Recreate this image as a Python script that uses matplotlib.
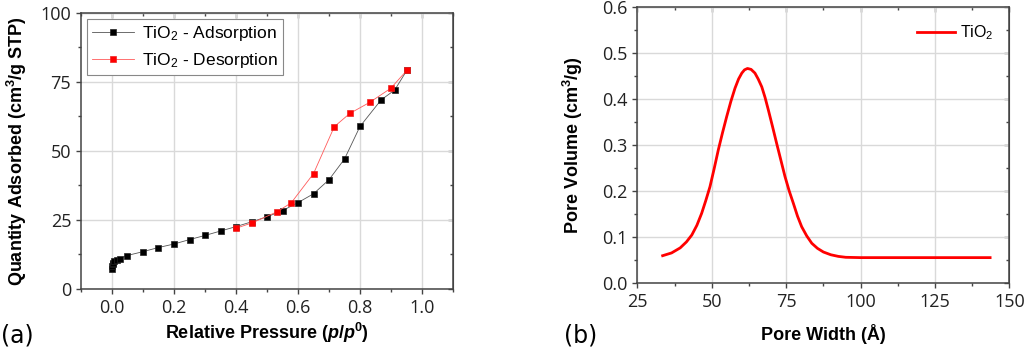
import matplotlib
matplotlib.use('Agg')
import matplotlib.pyplot as plt
from matplotlib.ticker import MultipleLocator

# ── data ──
ads_p = [0.0005, 0.001, 0.002, 0.004, 0.008, 0.015, 0.025, 0.048, 0.099, 0.149,
         0.20, 0.25, 0.30, 0.35, 0.40, 0.452, 0.501, 0.55, 0.60, 0.65,
         0.70, 0.75, 0.80, 0.868, 0.912, 0.951]
ads_q = [7.4, 8.2, 8.9, 9.5, 10.1, 10.6, 11.0, 12.1, 13.5, 15.0,
         16.3, 17.9, 19.4, 21.0, 22.6, 24.4, 26.2, 28.4, 31.3, 34.5,
         39.6, 47.1, 58.9, 68.5, 72.1, 79.2]

des_p = [0.951, 0.899, 0.831, 0.767, 0.717, 0.65, 0.578, 0.531, 0.453, 0.40]
des_q = [79.2, 72.7, 67.6, 63.6, 58.8, 41.8, 31.2, 27.9, 24.0, 22.0]

pore_w = [33.5, 36.5, 39.4, 41.5, 43.3, 45.0, 46.6, 48.0, 49.4, 50.8, 52.2, 53.6,
          55.0, 56.4, 57.8, 59.0, 60.1, 61.0, 62.0, 63.2, 64.5, 65.6, 66.8, 67.9,
          69.0, 70.4, 71.8, 73.2, 74.6, 76.0, 77.4, 78.8, 80.2, 81.9, 83.6, 85.5,
          87.5, 90.0, 92.5, 95.0, 100.0, 110.0, 120.0, 130.0, 143.5]
pore_v = [0.060, 0.066, 0.077, 0.090, 0.105, 0.126, 0.152, 0.180, 0.210, 0.249, 0.290, 0.327,
          0.362, 0.395, 0.424, 0.444, 0.457, 0.464, 0.467, 0.465, 0.457, 0.444, 0.427, 0.404,
          0.377, 0.341, 0.304, 0.268, 0.232, 0.201, 0.174, 0.146, 0.123, 0.103, 0.087, 0.076,
          0.068, 0.062, 0.0585, 0.0565, 0.0558, 0.0558, 0.0558, 0.0558, 0.0558]

plt.rcParams['font.family'] = ['Open Sans', 'DejaVu Sans']
plt.rcParams['xtick.labelsize'] = 13
plt.rcParams['ytick.labelsize'] = 13
plt.rcParams['mathtext.fontset'] = 'custom'
plt.rcParams['mathtext.rm'] = 'Liberation Sans'
plt.rcParams['mathtext.bf'] = 'Liberation Sans:bold'
plt.rcParams['mathtext.it'] = 'Liberation Sans:italic'
plt.rcParams['mathtext.bfit'] = 'Liberation Sans:bold:italic'

SPINE = '#444444'
GRID = '#d9d9d9'

fig = plt.figure(figsize=(10.24, 3.5), dpi=100)
ax1 = fig.add_axes([0.0791, 0.1743, 0.3633, 0.7886])
ax2 = fig.add_axes([0.6224, 0.1906, 0.3634, 0.7886])


def style(ax, xmaj, xmin, ymaj, ymin):
    ax.xaxis.set_major_locator(MultipleLocator(xmaj))
    ax.xaxis.set_minor_locator(MultipleLocator(xmin))
    ax.yaxis.set_major_locator(MultipleLocator(ymaj))
    ax.yaxis.set_minor_locator(MultipleLocator(ymin))
    ax.grid(True, which='major', color=GRID, lw=1.0, zorder=0)
    ax.set_axisbelow(True)
    for s in ax.spines.values():
        s.set_color(SPINE)
        s.set_linewidth(1.1)
    ax.tick_params(which='major', direction='out', length=3.6, width=1, color=SPINE,
                   labelsize=13, labelcolor='#222222', pad=3.5)
    ax.tick_params(which='minor', direction='out', length=2, width=1, color=SPINE)
    # top / right ticks point inward
    top = ax.secondary_xaxis('top')
    top.xaxis.set_major_locator(MultipleLocator(xmaj))
    top.xaxis.set_minor_locator(MultipleLocator(xmin))
    top.tick_params(which='major', direction='in', length=3.6, width=1, color=SPINE, labeltop=False)
    top.tick_params(which='minor', direction='in', length=2, width=1, color=SPINE)
    top.spines['top'].set_color(SPINE)
    right = ax.secondary_yaxis('right')
    right.yaxis.set_major_locator(MultipleLocator(ymaj))
    right.yaxis.set_minor_locator(MultipleLocator(ymin))
    right.tick_params(which='major', direction='in', length=3.6, width=1, color=SPINE, labelright=False)
    right.tick_params(which='minor', direction='in', length=2, width=1, color=SPINE)
    right.spines['right'].set_color(SPINE)


# ── (a) isotherm ──
ax1.plot(ads_p, ads_q, color='#555555', lw=0.6, marker='s', ms=4.6,
         mfc='black', mec='#222222', mew=0.5, label=r'TiO$_2$ - Adsorption', zorder=3)
ax1.plot(des_p, des_q, color='#ff5a5a', lw=0.6, marker='s', ms=4.6,
         mfc='#ff0000', mec='#ee2222', mew=0.5, label=r'TiO$_2$ - Desorption', zorder=4)
ax1.set_xlim(-0.1, 1.1)
ax1.set_ylim(0, 100)
style(ax1, 0.2, 0.1, 25, 12.5)
ax1.xaxis.set_major_formatter(lambda v, p: f"{v:.1f}")
ax1.set_xlabel(r'Relative Pressure ($\mathbfit{p}$/$\mathbfit{p}^\mathbf{0}$)',
               family='Liberation Sans', fontweight='bold', fontsize=13, labelpad=3)
ax1.set_ylabel(r'Quantity Adsorbed (cm$^\mathbf{3}$/g STP)',
               family='Liberation Sans', fontweight='bold', fontsize=13, labelpad=8.5)
leg = ax1.legend(loc='upper left', bbox_to_anchor=(0.0, 1.0), borderaxespad=0.35,
                 prop={'family': 'Liberation Sans', 'size': 12.5},
                 fancybox=False, edgecolor='#888888', framealpha=1,
                 handlelength=2.4, handletextpad=0.45, borderpad=0.3, labelspacing=0.45)
leg.get_frame().set_linewidth(0.8)

# ── (b) pore size distribution ──
ax2.plot(pore_w, pore_v, color='#ff0000', lw=2.0, label=r'TiO$_2$', zorder=3)
ax2.set_xlim(25, 150)
ax2.set_ylim(0, 0.6)
style(ax2, 25, 12.5, 0.1, 0.05)
ax2.yaxis.set_major_formatter(lambda v, p: f"{v:.1f}")
ax2.set_xlabel('Pore Width (Å)', family='Liberation Sans', fontweight='bold',
               fontsize=13, labelpad=9)
ax2.set_ylabel(r'Pore Volume (cm$^\mathbf{3}$/g)', family='Liberation Sans',
               fontweight='bold', fontsize=13, labelpad=12)
ax2.legend(loc='upper right', frameon=False, prop={'family': 'Liberation Sans', 'size': 11.5},
           handlelength=2.4, handletextpad=0.3, borderaxespad=0.6)

fig.text(0.001, 0.04, '(a)', fontsize=17, family='DejaVu Sans', va='center', ha='left')
fig.text(0.551, 0.04, '(b)', fontsize=17, family='DejaVu Sans', va='center', ha='left')

plt.savefig('out.png', dpi=100)
